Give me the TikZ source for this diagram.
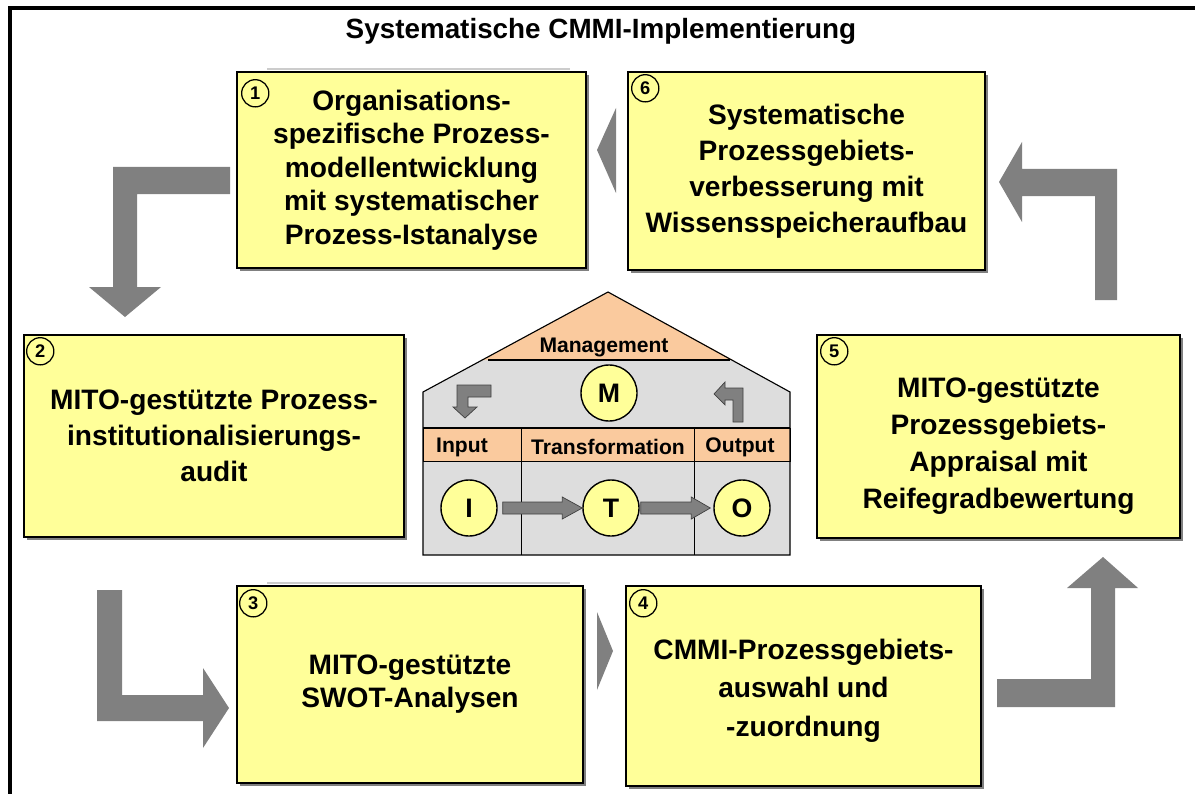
\documentclass[tikz,border=0pt]{standalone}
\usepackage{fontspec}
\setmainfont{Liberation Sans}
\usetikzlibrary{shadows,calc}
\definecolor{box_yellow}{RGB}{255,255,153}
\definecolor{house_orange}{RGB}{250,202,158}
\definecolor{house_gray}{RGB}{221,221,221}
\definecolor{arrow_gray}{RGB}{128,128,128}
\newcommand{\boxfont}[1]{\fontsize{20}{#1}\selectfont\bfseries}
\tikzstyle{taskbox}=[rectangle,fill=box_yellow,draw=black,line width=1pt,
  align=center,inner sep=0pt,
  drop shadow={shadow xshift=2pt,shadow yshift=-2pt,fill=black!50,opacity=1}]
\tikzstyle{num}=[circle,draw=black,line width=0.9pt,inner sep=0pt,
  minimum size=0.68cm,font=\fontsize{13}{13}\selectfont\bfseries]
\tikzstyle{ball}=[circle,fill=box_yellow,draw=black,line width=1pt,inner sep=0pt,
  minimum size=1.4cm,font=\fontsize{19}{19}\selectfont\bfseries]
\tikzstyle{lbl}=[inner sep=0pt,font=\fontsize{15}{15}\selectfont\bfseries]
\tikzstyle{bigarrow}=[fill=arrow_gray,draw=none]
\tikzstyle{smallarrow}=[fill=arrow_gray,draw=black!75,line width=0.5pt]
\begin{document}
\begin{tikzpicture}[x=0.025cm, y=-0.025cm]
    \useasboundingbox (0,0) rectangle (1195,794);
    % frame and title
    \draw[line width=2.2pt] (10,800) -- (10,8) -- (1200,8);
    \node[font=\fontsize{19.8}{24}\selectfont\bfseries] (title) at (601,31) {Systematische CMMI-Implementierung};

    % faint lines above the boxes
    \draw[black!20, line width=1.5pt] (267,69) -- (570,69);
    \draw[black!20, line width=1.5pt] (267,583) -- (570,583);

    % the six boxes
    \node[taskbox, minimum width=8.725cm, minimum height=4.9cm, font=\boxfont{23.8}] (b1) at (411.5,170)
        {Organisations-\\spezifische Prozess-\\modellentwicklung\\mit systematischer\\Prozess-Istanalyse};
    \node[taskbox, minimum width=9.5cm, minimum height=5.05cm, font=\boxfont{25.5}] (b2) at (214,436)
        {MITO-gestützte Prozess-\\institutionalisierungs-\\audit};
    \node[taskbox, minimum width=8.65cm, minimum height=4.925cm, font=\boxfont{23.5}] (b3) at (410,684.5)
        {MITO-gestützte\\SWOT-Analysen};
    \node[taskbox, minimum width=8.875cm, minimum height=5cm, font=\boxfont{27.5}] (b4) at (803.5,686)
        {\rule{0pt}{21pt}CMMI-Prozessgebiets-\\auswahl und\\-zuordnung};
    \node[taskbox, minimum width=9.075cm, minimum height=5.075cm, font=\boxfont{26.2}] (b5) at (998.5,436.5)
        {\rule{0pt}{28pt}MITO-gestützte\\Prozessgebiets-\\Appraisal mit\\Reifegradbewertung};
    \node[taskbox, minimum width=8.925cm, minimum height=4.95cm, font=\boxfont{25.6}] (b6) at (806.5,171)
        {Systematische\\Prozessgebiets-\\verbesserung mit\\Wissensspeicheraufbau};

    \node[num] (n1) at ([shift={(19,22)}]b1.north west) {1};
    \node[num] (n2) at ([shift={(17,17)}]b2.north west) {2};
    \node[num] (n3) at ([shift={(17,18)}]b3.north west) {3};
    \node[num] (n4) at ([shift={(18,18)}]b4.north west) {4};
    \node[num] (n5) at ([shift={(18,17)}]b5.north west) {5};
    \node[num] (n6) at ([shift={(18,17)}]b6.north west) {6};

    % big block arrows between the boxes
    \fill[bigarrow] (230,167) -- (113,167) -- (113,287) -- (89,287) -- (125,317)
        -- (161,287) -- (137,287) -- (137,194) -- (230,194) -- cycle;
    \fill[bigarrow] (97,590) -- (97,721) -- (203,721) -- (203,748) -- (229,708)
        -- (203,668) -- (203,695) -- (122,695) -- (122,590) -- cycle;
    \fill[bigarrow] (597,612) -- (613,651) -- (597,690) -- cycle;
    \fill[bigarrow] (997,679) -- (1091,679) -- (1091,588) -- (1067,588) -- (1103,557)
        -- (1138,588) -- (1115,588) -- (1115,707) -- (997,707) -- cycle;
    \fill[bigarrow] (1095,300) -- (1095,196) -- (1022,196) -- (1022,222) -- (999,182)
        -- (1022,142) -- (1022,169) -- (1117,169) -- (1117,300) -- cycle;
    \fill[bigarrow] (616,108) -- (597,150) -- (616,193) -- cycle;

    % house
    \fill[house_gray] (423,555) -- (423,392) -- (608,292) -- (790,392) -- (790,555) -- cycle;
    \fill[house_orange] (608,292) -- (482,360) -- (733,360) -- cycle;
    \draw[line width=0.8pt] (488,360) -- (730,360);
    \filldraw[fill=house_orange, line width=0.6pt] (423,428) rectangle (790,461);
    \draw[line width=1.6pt] (423,428) -- (790,428);
    \draw[line width=0.6pt] (521,428) -- (521,555);
    \draw[line width=0.6pt] (694,428) -- (694,555);
    \draw[line width=0.8pt] (423,555) -- (423,392) -- (608,292) -- (790,392) -- (790,555) -- cycle;

    \node[lbl] (mgmt) at (604,347) {Management};
    \node[lbl] (input) at (462,447) {Input};
    \node[lbl] (transf) at (608,447) {Transformation};
    \node[lbl] (output) at (740,447) {Output};

    \node[ball] (m) at (609,393) {M};
    \node[ball] (i) at (469,508) {I};
    \node[ball] (t) at (611,508) {T};
    \node[ball] (o) at (742,508) {O};

    % small arrows inside the house
    \draw[smallarrow] (491,385) -- (457,385) -- (457,407) -- (453,407) -- (465,418)
        -- (477,407) -- (468,407) -- (468,397) -- (491,397) -- cycle;
    \draw[smallarrow] (743,422) -- (743,388) -- (725,388) -- (725,382) -- (714,394)
        -- (725,405) -- (725,400) -- (733,400) -- (733,422) -- cycle;
    \draw[smallarrow] ($(i.east)+(5,6)$) -- ($(t.west)+(-20,6)$) -- ($(t.west)+(-20,11)$)
        -- (t.west) -- ($(t.west)+(-20,-11)$) -- ($(t.west)+(-20,-6)$) -- ($(i.east)+(5,-6)$) -- cycle;
    \draw[smallarrow] ($(t.east)+(1,6)$) -- ($(o.west)+(-22,6)$) -- ($(o.west)+(-22,11)$)
        -- ($(o.west)+(-3,0)$) -- ($(o.west)+(-22,-11)$) -- ($(o.west)+(-22,-6)$) -- ($(t.east)+(1,-6)$) -- cycle;
\end{tikzpicture}
\end{document}
